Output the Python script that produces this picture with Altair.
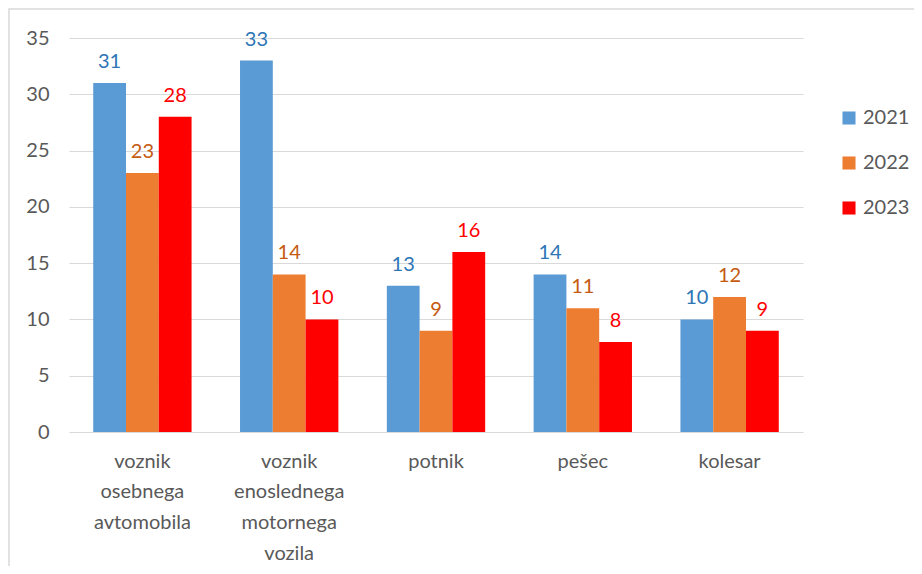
import altair as alt
import pandas as pd

categories = ["voznik osebnega avtomobila", "voznik enoslednega motornega vozila", "potnik", "pešec", "kolesar"]
years = ["2021", "2022", "2023"]
v2021 = [31, 33, 13, 14, 10]
v2022 = [23, 14, 9, 11, 12]
v2023 = [28, 10, 16, 8, 9]

rows = []
for i, c in enumerate(categories):
    for y, vals in zip(years, [v2021, v2022, v2023]):
        rows.append({"cat": c, "year": y, "value": vals[i]})
df = pd.DataFrame(rows)

bar_colors = ["#5B9BD5", "#ED7D31", "#FF0000"]
label_colors = ["#2E75B6", "#C55A11", "#FF0000"]
FONT = "Lato"
W, H = 734, 394

xenc = alt.X("cat:N", sort=categories, title=None,
             scale=alt.Scale(paddingInner=0.33, paddingOuter=0.165),
             axis=alt.Axis(labelAngle=0, labelExpr="split(datum.label, ' ')",
                           labelFontSize=20, labelColor="#595959", labelFont=FONT,
                           labelLineHeight=30.7, labelPadding=19, ticks=False,
                           domain=False, grid=False, labelBaseline="top"))
yenc = alt.Y("value:Q", title=None, scale=alt.Scale(domain=[0, 35], nice=False),
             axis=alt.Axis(values=[0, 5, 10, 15, 20, 25, 30, 35], ticks=False, domain=False,
                           gridColor="#D9D9D9", labelFontSize=20, labelColor="#595959",
                           labelFont=FONT, labelPadding=20))

bars = alt.Chart(df).mark_bar().encode(
    x=xenc,
    xOffset=alt.XOffset("year:N", sort=years),
    y=yenc,
    color=alt.Color("year:N", scale=alt.Scale(domain=years, range=bar_colors),
                    legend=alt.Legend(title=None, orient="none", legendX=770, legendY=70,
                                      symbolType="square", symbolSize=170, labelFontSize=20,
                                      labelColor="#595959", labelFont=FONT, rowPadding=25,
                                      symbolStrokeWidth=0, labelOffset=4)),
)

text = alt.Chart(df).mark_text(baseline="bottom", dy=-11, fontSize=20, font=FONT).encode(
    x=alt.X("cat:N", sort=categories),
    xOffset=alt.XOffset("year:N", sort=years),
    y="value:Q",
    text="value:Q",
    color=alt.Color("year:N", scale=alt.Scale(domain=years, range=label_colors), legend=None),
)

frame = alt.Chart(pd.DataFrame({"a": [0]})).mark_rect(fill=None, stroke="#D9D9D9", strokeWidth=1.5).encode(
    x=alt.value(-60), x2=alt.value(W + 112), y=alt.value(-29), y2=alt.value(H + 160)
)

chart = alt.layer(bars, text, frame).resolve_scale(color="independent").properties(
    width=W, height=H,
    autosize=alt.AutoSizeParams(type="none"),
    padding={"left": 61, "top": 30, "right": 111, "bottom": 134},
).configure_view(stroke=None)

chart.save("out.html", embed_options={"renderer": "svg", "actions": False})
